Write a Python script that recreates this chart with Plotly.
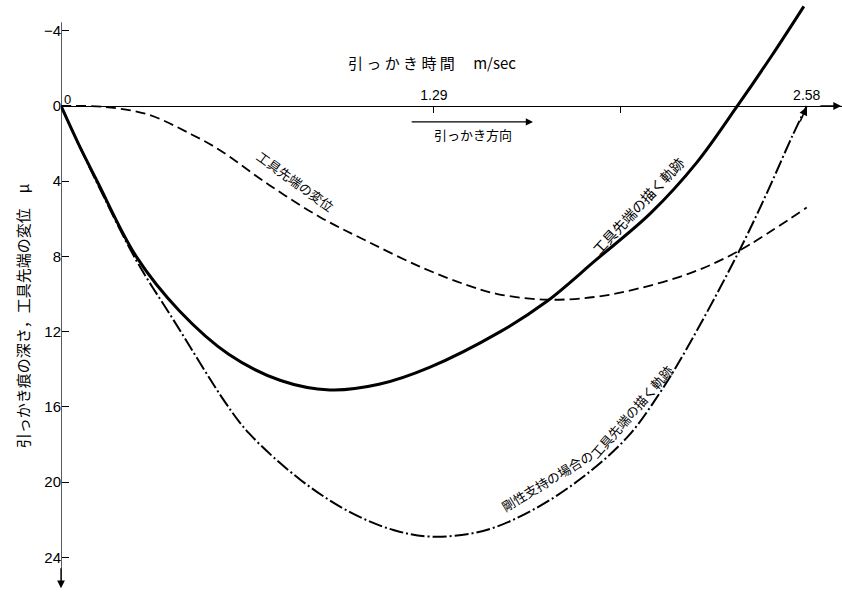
import plotly.graph_objects as go

# ---- data (time in m/sec, depth in micron, positive downward) ----
t_solid = [0, 0.06, 0.125, 0.26, 0.41, 0.58, 0.76, 0.93, 1.10, 1.275, 1.52, 1.68, 1.85, 2.04, 2.20, 2.34, 2.46, 2.57]
d_solid = [0, 2.0, 4.0, 8.0, 10.9, 13.2, 14.6, 15.1, 14.8, 13.9, 12.0, 10.4, 8.2, 5.7, 3.0, 0.0, -2.7, -5.3]

t_disp = [0, 0.15, 0.3, 0.45, 0.55, 0.72, 0.895, 1.06, 1.25, 1.40, 1.51, 1.68, 1.85, 2.0, 2.175, 2.34, 2.58]
d_disp = [0, 0.05, 0.45, 1.5, 2.35, 4.2, 5.9, 7.2, 8.6, 9.5, 10.0, 10.3, 10.15, 9.7, 8.9, 7.75, 5.4]

t_rigid = [0, 0.06, 0.125, 0.26, 0.39, 0.57, 0.65, 0.83, 1.0, 1.15, 1.28, 1.46, 1.63, 1.80, 1.96, 2.07, 2.165, 2.34, 2.44, 2.53, 2.58]
d_rigid = [0, 2.0, 4.1, 8.2, 11.4, 15.8, 17.4, 19.9, 21.6, 22.55, 22.9, 22.6, 21.5, 19.8, 17.6, 15.3, 12.9, 7.9, 4.7, 1.6, 0]

y_ticks = [-4, 0, 4, 8, 12, 16, 20, 24]
y_ticktext = ["\u22124", "0", "4", "8", "12", "16", "20", "24"]
x_ticks = [1.29, 1.935, 2.58]
x_ticktext = ["1.29", "", "2.58"]

x_title = "引 っ か き 時 間 　m/sec"
y_title = "引っかき痕の深さ，工具先端の変位　μ"
dir_label = "引っかき方向"
lbl_disp = "工具先端の変位"
lbl_solid = "工具先端の描く軌跡"
lbl_rigid_a = "剛性支持の場合の"
lbl_rigid_b = "工具先端の描く軌跡"

Y_TOP, Y_BOT = -5.37, 25.74
X_MAX = 2.702

jp = "Noto Sans CJK JP"
num = "Liberation Sans Narrow, Liberation Sans, Arial"

fig = go.Figure()
fig.add_trace(go.Scatter(x=t_solid, y=d_solid, mode="lines",
                         line=dict(color="black", width=3, shape="spline", smoothing=1.0)))
fig.add_trace(go.Scatter(x=t_disp, y=d_disp, mode="lines",
                         line=dict(color="black", width=1.8, dash="10px,5px", shape="spline", smoothing=1.0)))
fig.add_trace(go.Scatter(x=t_rigid, y=d_rigid, mode="lines",
                         line=dict(color="black", width=2, dash="14px,3px,2px,3px", shape="spline", smoothing=1.0)))

# y axis line
fig.add_shape(type="line", xref="x", yref="y", x0=0, x1=0, y0=-4.45, y1=25.5,
              line=dict(color="black", width=1.3))

ann = []
# axis arrowheads
ann.append(dict(x=X_MAX - 0.003, y=0, ax=X_MAX - 0.08, ay=0, xref="x", yref="y", axref="x", ayref="y",
                text="", showarrow=True, arrowhead=2, arrowsize=1.2, arrowwidth=1.3, arrowcolor="black"))
ann.append(dict(x=0, y=25.65, ax=0, ay=24.5, xref="x", yref="y", axref="x", ayref="y",
                text="", showarrow=True, arrowhead=2, arrowsize=1.2, arrowwidth=1.3, arrowcolor="black"))
# dash-dot end arrowhead
ann.append(dict(x=2.58, y=0.05, ax=2.555, ay=0.9, xref="x", yref="y", axref="x", ayref="y",
                text="", showarrow=True, arrowhead=2, arrowsize=1.1, arrowwidth=1.5, arrowcolor="black"))
# direction arrow
ann.append(dict(x=1.633, y=0.85, ax=1.208, ay=0.85, xref="x", yref="y", axref="x", ayref="y",
                text="", showarrow=True, arrowhead=2, arrowsize=1.2, arrowwidth=1.2, arrowcolor="black"))
ann.append(dict(x=1.426, y=1.5, xref="x", yref="y", text=dir_label, showarrow=False,
                font=dict(family=jp, size=13, color="black")))
# x title
ann.append(dict(x=1.284, y=-2.3, xref="x", yref="y", text=x_title, showarrow=False,
                font=dict(family=jp, size=15, color="black")))
# origin label
ann.append(dict(x=0.005, y=0.15, xref="x", yref="y", text="0", showarrow=False,
                xanchor="left", yanchor="bottom", font=dict(family=num, size=13, color="black")))
# curve labels
ann.append(dict(x=0.813, y=4.0, xref="x", yref="y", text=lbl_disp, showarrow=False, textangle=36,
                font=dict(family=jp, size=13, color="black")))
ann.append(dict(x=1.995, y=5.3, xref="x", yref="y", text=lbl_solid, showarrow=False, textangle=-47,
                font=dict(family=jp, size=14, color="black")))
ann.append(dict(x=1.683, y=19.9, xref="x", yref="y", text=lbl_rigid_a, showarrow=False, textangle=-31,
                font=dict(family=jp, size=13, color="black")))
ann.append(dict(x=1.975, y=16.25, xref="x", yref="y", text=lbl_rigid_b, showarrow=False, textangle=-49,
                font=dict(family=jp, size=13, color="black")))
# y title
ann.append(dict(x=-0.0499, y=0.468, xref="paper", yref="paper", text=y_title, showarrow=False,
                textangle=-90, xanchor="center", yanchor="middle",
                font=dict(family=jp, size=15, color="black")))

pos0 = (Y_BOT - 0) / (Y_BOT - Y_TOP)

fig.update_layout(
    width=842, height=594,
    margin=dict(l=61, r=0, t=5, b=4),
    paper_bgcolor="white", plot_bgcolor="white",
    showlegend=False,
    annotations=ann,
    xaxis=dict(range=[0, X_MAX], anchor="free", position=pos0, side="top",
               showline=True, linecolor="black", linewidth=1.3,
               ticks="inside", ticklen=6, tickcolor="black", tickwidth=1,
               tickvals=x_ticks, ticktext=x_ticktext, showgrid=False, zeroline=False,
               tickfont=dict(family=num, size=14, color="black")),
    yaxis=dict(range=[Y_BOT, Y_TOP], anchor="free", position=0,
               showline=False, ticks="inside", ticklen=7, tickcolor="black", tickwidth=1,
               tickvals=y_ticks, ticktext=y_ticktext, showgrid=False, zeroline=False,
               tickfont=dict(family=num, size=15, color="black")),
)

fig.write_html("out.html", config={"displayModeBar": False},
               post_script="document.body.style.margin='0';document.body.style.overflow='hidden';")
